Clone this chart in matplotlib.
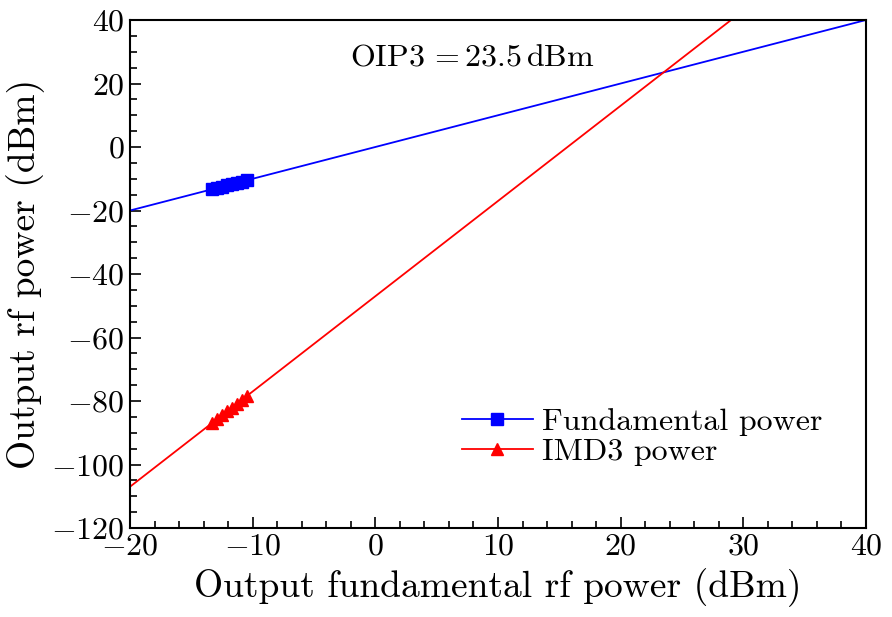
import matplotlib
matplotlib.use("Agg")
import matplotlib.pyplot as plt
from matplotlib.ticker import MultipleLocator

plt.rcParams["font.family"] = "serif"
plt.rcParams["font.serif"] = ["cmr10"]
plt.rcParams["mathtext.fontset"] = "cm"
plt.rcParams["axes.formatter.use_mathtext"] = True

# measured points (output fundamental power vs output power)
fund_x = [-13.3, -12.9, -12.5, -12.1, -11.7, -11.3, -10.9, -10.5]
fund_y = [-13.3, -12.9, -12.5, -12.1, -11.7, -11.3, -10.9, -10.5]
imd3_x = [-13.3, -12.9, -12.5, -12.1, -11.7, -11.3, -10.9, -10.5]
imd3_y = [-86.9, -85.7, -84.5, -83.3, -82.1, -80.9, -79.7, -78.5]

# linear fits (slope 1 and slope 3)
fund_fit_x = [-20, 40]
fund_fit_y = [-20, 40]
imd3_fit_x = [-20, 29]
imd3_fit_y = [-107, 40]

fig = plt.figure(figsize=(8.92, 6.17), dpi=100)
ax = fig.add_axes([130 / 892, 1 - 528 / 617, 736 / 892, 508 / 617])

ax.plot(fund_fit_x, fund_fit_y, color="blue", lw=1.3)
ax.plot(imd3_fit_x, imd3_fit_y, color="red", lw=1.3)
ax.plot(fund_x, fund_y, "s", color="blue", ms=8)
ax.plot(imd3_x, imd3_y, "^", color="red", ms=9)

# legend proxies
ax.plot([], [], "-s", color="blue", lw=1.3, ms=8, label="Fundamental power")
ax.plot([], [], "-^", color="red", lw=1.3, ms=9, label="IMD3 power")

ax.text(7.9, 28, r"OIP3$\,=23.5\,$dBm", fontsize=23, ha="center", va="center")

ax.set_xlim(-20, 40)
ax.set_ylim(-120, 40)
ax.xaxis.set_major_locator(MultipleLocator(10))
ax.xaxis.set_minor_locator(MultipleLocator(2))
ax.yaxis.set_major_locator(MultipleLocator(20))
ax.yaxis.set_minor_locator(MultipleLocator(5))
ax.tick_params(which="both", direction="in", labelsize=23, width=1.2, pad=4)
ax.tick_params(which="major", length=8)
ax.tick_params(which="minor", length=5)
for s in ax.spines.values():
    s.set_linewidth(1.5)

ax.set_xlabel("Output fundamental rf power (dBm)", fontsize=27, labelpad=5)
ax.set_ylabel("Output rf power (dBm)", fontsize=27, labelpad=4)

ax.legend(loc="lower right", bbox_to_anchor=(0.98, 0.065), frameon=False,
          fontsize=23, handlelength=2.2, handletextpad=0.3, labelspacing=0.05)

plt.savefig("out.png", dpi=100)
